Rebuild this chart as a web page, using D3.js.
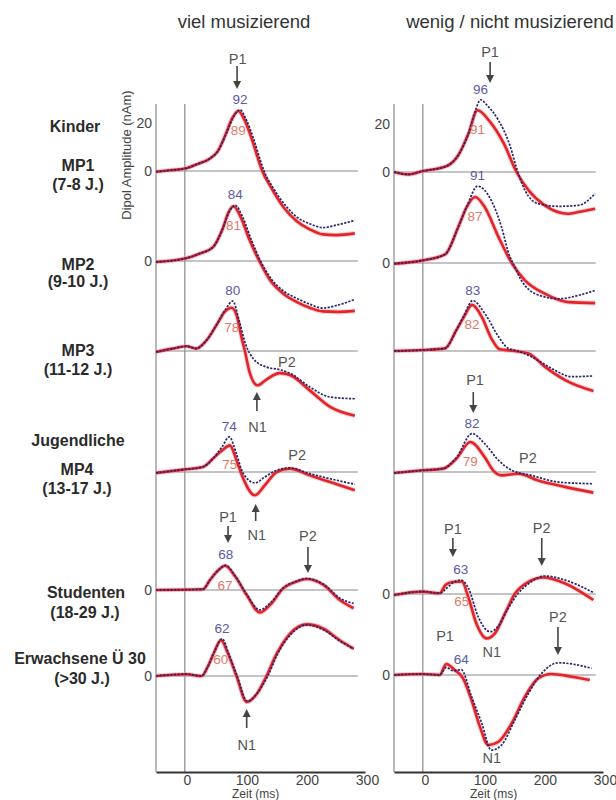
<!DOCTYPE html>
<html>
<head>
<meta charset="utf-8">
<script src="https://cdn.jsdelivr.net/npm/d3@7"></script>
<style>
  body { margin: 0; background: #fff; }
  svg { display: block; }
  text { font-family: "Liberation Sans", Arial, Helvetica, sans-serif; }
</style>
</head>
<body>
<svg id="chart" width="616" height="800"></svg>
<script>
// ---- Spaltenüberschriften und Gruppen ----
const spalten = ["viel musizierend", "wenig / nicht musizierend"];
const gruppenName = ["MP1", "MP2", "MP3", "MP4", "Studenten", "Erwachsene Ü 30"];
const gruppenAlter = ["(7-8 J.)", "(9-10 J.)", "(11-12 J.)", "(13-17 J.)", "(18-29 J.)", "(>30 J.)"];
const oberbegriffe = ["Kinder", "Jugendliche"];
const zeitTicks = [0, 100, 200, 300];
const amplitudeTicks = [0, 20];

// ---- P1-Latenzen (ms) ----
const p1VielBlau = [92, 84, 80, 74, 68, 62];
const p1VielRot = [89, 81, 78, 75, 67, 60];
const p1WenigBlau = [96, 91, 83, 82, 63, 64];
const p1WenigRot = [91, 87, 82, 79, 65, null];

// ---- Dipolkurven [Zeit ms, Amplitude nAm] : viel musizierend ----
const vielRotMP1 = [[-48,-0.3],[-25,0.3],[0,1.0],[20,2.8],[40,4.9],[55,8.3],[68,15.3],[79,22],[89,25],[99,21.5],[112,13],[124,3.5],[129,0],[144,-7],[165,-15.3],[186,-20.8],[208,-24.3],[230,-26.4],[253,-26.7],[283,-26]];
const vielBlauMP1 = [[-48,-0.3],[-25,0.3],[0,1.0],[20,2.8],[40,4.9],[55,8.3],[68,15],[80,22],[92,25.5],[102,21.5],[115,13],[127,3.5],[132,0],[147,-7],[168,-14.5],[188,-19.5],[208,-22],[230,-23.6],[253,-22.5],[283,-20.6]];
const vielRotMP2 = [[-48,-0.4],[0,1.0],[25,3.1],[47,5.8],[62,12.8],[73,20.4],[81,22.8],[93,18.3],[108,8.6],[124,0],[142,-8],[164,-13.6],[186,-17],[208,-19.5],[230,-21],[253,-21.2],[283,-20.8]];
const vielBlauMP2 = [[-48,-0.4],[0,1.0],[25,3.1],[47,5.8],[62,12.8],[74,20.6],[84,23.2],[96,18.5],[111,8.6],[126,0],[144,-7.5],[166,-12.8],[186,-15.5],[208,-18],[230,-19.6],[253,-18.5],[283,-16]];
const vielRotMP3 = [[-48,-0.4],[-20,1],[3,2.0],[19,1],[36,4.4],[54,11.3],[66,16.2],[78,18],[87,14.2],[95,5],[100,0],[108,-9],[121,-14.3],[134,-12.2],[158,-9.2],[176,-10.1],[208,-16.4],[242,-23.3],[283,-27]];
const vielBlauMP3 = [[-48,-0.4],[-20,1],[3,2.0],[19,1],[36,4.4],[54,11.5],[67,17],[80,20.8],[90,13],[101,3],[114,-3.2],[136,-6.7],[158,-7.8],[176,-9.4],[208,-15],[242,-19.2],[283,-19.9]];
const vielRotMP4 = [[-48,-0.4],[-3,1],[30,2.1],[47,5.6],[62,9],[75,11.1],[86,4.9],[94,-0.7],[117,-9.7],[133,-5.6],[153,0],[175,1.4],[208,-1.4],[242,-4.2],[283,-7.6]];
const vielBlauMP4 = [[-48,-0.4],[-3,1],[30,2.1],[47,5.6],[62,10.5],[74,14.6],[86,7.6],[96,0],[117,-4.6],[133,-2.1],[153,0.7],[175,1.7],[208,-0.7],[242,-2.8],[283,-5.1]];
const vielRotStud = [[-48,0],[30,0.3],[42,4.2],[56,8.3],[67,10.1],[84,5.6],[103,-2.1],[125,-9.4],[142,-6.2],[164,0.7],[186,3.5],[203,4.6],[231,2.1],[258,-4.2],[281,-7.6]];
const vielBlauStud = [[-48,0],[30,0.3],[42,4.2],[56,8.3],[68,10.3],[84,5.8],[103,-1.8],[125,-8.3],[142,-5.5],[164,0.9],[186,3.7],[203,4.8],[231,2.4],[258,-3.4],[281,-5.6]];
const vielRotErw = [[-48,0],[3,0.7],[28,0],[38,3.8],[49,10],[60,14.9],[72,9.3],[86,0],[103,-10.8],[120,-7.4],[136,0],[153,9.3],[175,17.6],[203,21.5],[231,19.7],[258,14.9],[281,11.4]];
const vielBlauErw = [[-48,0],[3,0.8],[28,0],[38,3.8],[50,10.5],[62,15.5],[73,9.3],[87,0],[104,-10.5],[121,-7],[138,0],[154,9],[176,17.2],[203,21.3],[231,19.2],[258,14.6],[281,11.2]];

// ---- Dipolkurven [Zeit ms, Amplitude nAm] : wenig / nicht musizierend ----
const wenigRotMP1 = [[-48,0],[-25,-1],[0,0.4],[39,2.4],[59,7],[76,16],[91,25.7],[110,21.5],[135,11.8],[156,0],[176,-7.6],[203,-13.9],[242,-17.4],[259,-16.7],[287,-15.3]];
const wenigBlauMP1 = [[-48,0],[-25,-1],[0,0.4],[39,2.4],[59,7],[76,16],[88,26],[96,30.1],[108,27.5],[126,21.5],[145,11.1],[158,0],[170,-7.6],[192,-13.2],[226,-14.3],[259,-13.9],[287,-9]];
const wenigRotMP2 = [[-48,-0.3],[0,1.1],[37,3.6],[59,15],[73,23.3],[87,27.5],[103,23.3],[126,10.8],[148,0],[170,-7.2],[203,-12.8],[242,-16.3],[287,-16.7]];
const wenigBlauMP2 = [[-48,-0.3],[0,1.1],[37,3.6],[59,15],[74,24],[91,32],[114,26.1],[131,15],[145,2.5],[150,0],[164,-7.2],[187,-12.8],[226,-14.9],[259,-13.5],[287,-11.4]];
const wenigRotMP3 = [[-48,0],[0,0.4],[37,1.1],[56,8.8],[68,14],[82,19.2],[98,14.3],[114,5.3],[128,0.7],[153,0],[176,-1],[203,-6.5],[237,-12.1],[284,-16.7]];
const wenigBlauMP3 = [[-48,0],[0,0.4],[37,1.1],[56,8.8],[68,14.5],[83,21],[103,15.7],[126,6],[142,1.1],[158,0],[181,-2.4],[214,-7.2],[248,-10.7],[284,-10.4]];
const wenigRotMP4 = [[-48,-0.4],[0,0.7],[34,1.4],[56,5.6],[79,12.5],[103,6.2],[117,0.7],[131,-1.4],[159,-0.7],[192,-3.5],[237,-6.2],[284,-8.6]];
const wenigBlauMP4 = [[-48,-0.4],[0,0.7],[34,1.4],[56,6],[82,16],[103,11.8],[126,4.9],[148,0.7],[181,-1.4],[226,-4.2],[284,-4.9]];
const wenigRotStud = [[-48,-0.4],[0,1],[28,0.3],[38,3.8],[50,5],[65,5.2],[76,-1.5],[89,-12.2],[106,-18.5],[120,-16.4],[137,-8],[153,0],[176,5.1],[201,6.9],[237,4.4],[284,-2.5]];
const wenigBlauStud = [[-48,-0.4],[0,1],[28,0.3],[40,2.5],[52,5],[63,5.8],[76,2.4],[92,-9.4],[112,-15.7],[125,-13.6],[142,-6],[158,0],[180,5],[203,7.5],[237,5.8],[284,0.6]];
const wenigRotErw = [[-48,0],[0,0.4],[28,0],[39,4.6],[53,2.1],[67,-1.4],[81,-10.4],[95,-21.5],[109,-29.2],[126,-27.8],[148,-20.1],[170,-9],[192,-1.4],[214,0.4],[248,-0.7],[278,-2.1]];
const wenigBlauErw = [[-48,0],[0,0.4],[28,0],[39,3.2],[50,1.8],[64,2.2],[81,-9],[98,-20],[114,-31.3],[131,-29.2],[153,-18.8],[176,-7.6],[198,0.7],[226,5.1],[248,4.6],[281,2.8]];

const kurven = [
  { rot: [vielRotMP1, vielRotMP2, vielRotMP3, vielRotMP4, vielRotStud, vielRotErw],
    blau: [vielBlauMP1, vielBlauMP2, vielBlauMP3, vielBlauMP4, vielBlauStud, vielBlauErw],
    latRot: p1VielRot, latBlau: p1VielBlau },
  { rot: [wenigRotMP1, wenigRotMP2, wenigRotMP3, wenigRotMP4, wenigRotStud, wenigRotErw],
    blau: [wenigBlauMP1, wenigBlauMP2, wenigBlauMP3, wenigBlauMP4, wenigBlauStud, wenigBlauErw],
    latRot: p1WenigRot, latBlau: p1WenigBlau }
];

// ---- Layout ----
const svg = d3.select("#chart");
const panelLeft = [156, 394];
const panelWidth = 209;
const nullLinien = [[171, 261, 351, 472, 590, 676], [172, 263, 351, 472, 594, 675]];
const pxPerNAm = 2.4;
const axisTop = 104, axisBottom = 772;
const titelX = [244, 510];

const RED = "#e3232a", BLUE = "#26266e";
const RED_LABEL = "#e07a68", BLUE_LABEL = "#5a5aa6";
const GREY = "#8a8a8a", ANNO = "#555";

const x = d3.scaleLinear().domain([-48, 300]).range([0, panelWidth]);

// Titel
spalten.forEach((t, i) => {
  svg.append("text").attr("x", titelX[i]).attr("y", 28)
    .attr("text-anchor", "middle").attr("font-size", 18.5).attr("fill", "#333").text(t);
});

// Gruppenbeschriftung links
const gruppenY = [[171, 190], [270, 287], [356, 375], [475, 494], [598, 618], [664, 684]];
const gruppenX = [78, 78, 78, 77, 86, 80];
const alterX = [78, 78, 78, 77, 85, 82];
const labelFont = 16;
gruppenName.forEach((n, i) => {
  svg.append("text").attr("x", gruppenX[i]).attr("y", gruppenY[i][0]).attr("text-anchor", "middle")
    .attr("font-size", labelFont).attr("font-weight", "bold").attr("fill", "#2b2b2b").text(n);
  svg.append("text").attr("x", alterX[i]).attr("y", gruppenY[i][1]).attr("text-anchor", "middle")
    .attr("font-size", labelFont).attr("font-weight", "bold").attr("fill", "#2b2b2b").text(gruppenAlter[i]);
});
[[oberbegriffe[0], 75, 132], [oberbegriffe[1], 78, 446]].forEach(([t, cx, cy]) => {
  svg.append("text").attr("x", cx).attr("y", cy).attr("text-anchor", "middle")
    .attr("font-size", labelFont).attr("font-weight", "bold").attr("fill", "#2b2b2b").text(t);
});

// y-Achsentitel
svg.append("text").attr("transform", "translate(131,155) rotate(-90)")
  .attr("text-anchor", "middle").attr("font-size", 13).attr("fill", "#444")
  .text("Dipol Amplitude (nAm)");

const line = (y) => d3.line().x(d => x(d[0])).y(d => y(d[1])).curve(d3.curveMonotoneX);

function arrow(g, ax, yTail, yTip) {
  const dir = yTip > yTail ? 1 : -1;
  g.append("line").attr("x1", ax).attr("x2", ax).attr("y1", yTail).attr("y2", yTip - dir * 6)
    .attr("stroke", "#444").attr("stroke-width", 1.6);
  g.append("path")
    .attr("d", `M${ax - 4},${yTip - dir * 8} L${ax + 4},${yTip - dir * 8} L${ax},${yTip} Z`)
    .attr("fill", "#444");
}
function anno(g, t, y, text) {
  g.append("text").attr("x", x(t)).attr("y", y).attr("text-anchor", "middle")
    .attr("font-size", 14.5).attr("fill", ANNO).text(text);
}

kurven.forEach((spalte, p) => {
  const g = svg.append("g").attr("transform", `translate(${panelLeft[p]},0)`);

  // senkrechte Linien: Achse und Reizbeginn
  [x.range()[0], x(0)].forEach(vx => {
    g.append("line").attr("x1", vx).attr("x2", vx).attr("y1", axisTop).attr("y2", axisBottom)
      .attr("stroke", GREY).attr("stroke-width", 1.2);
  });

  // Zeitachse
  const xAxis = d3.axisBottom(x).tickValues(zeitTicks).tickSize(0).tickPadding(3).tickSizeOuter(0);
  const ax = g.append("g").attr("transform", `translate(0,${axisBottom})`).call(xAxis);
  ax.select(".domain").attr("stroke", "#333").attr("stroke-width", 2);
  ax.selectAll("text").attr("font-size", 14).attr("fill", "#444")
    .attr("dx", 2)
    .style("font-family", "'Liberation Sans', Arial, sans-serif");
  g.append("text").attr("x", x(118)).attr("y", 797.5).attr("text-anchor", "middle")
    .attr("font-size", 12).attr("fill", "#444").text("Zeit (ms)");

  nullLinien[p].forEach((base, r) => {
    const y = d3.scaleLinear().domain([0, 20]).range([base, base - 20 * pxPerNAm]);

    // Nulllinie
    g.append("line").attr("x1", x.range()[0]).attr("x2", x(288)).attr("y1", y(0)).attr("y2", y(0))
      .attr("stroke", GREY).attr("stroke-width", 1.2);

    // Amplituden-Beschriftung
    const ticks = r === 0 ? amplitudeTicks : (r === 1 || r >= 4 ? [0] : []);
    ticks.forEach(v => {
      g.append("text").attr("x", -4).attr("y", y(v) + 5).attr("text-anchor", "end")
        .attr("font-size", 14).attr("fill", "#444").text(v);
    });

    // Kurven
    g.append("path").datum(spalte.rot[r]).attr("d", line(y))
      .attr("fill", "none").attr("stroke", "#f29a9a").attr("stroke-width", 4.6).attr("opacity", 0.5);
    g.append("path").datum(spalte.rot[r]).attr("d", line(y))
      .attr("fill", "none").attr("stroke", RED).attr("stroke-width", 2.6);
    g.append("path").datum(spalte.blau[r]).attr("d", line(y))
      .attr("fill", "none").attr("stroke", BLUE).attr("stroke-width", 1.7)
      .attr("stroke-dasharray", "2.2,1.4");

    // Latenz-Beschriftung
    const peak = (arr, t) => arr.reduce((a, b) => Math.abs(b[0] - t) < Math.abs(a[0] - t) ? b : a);
    const lb = spalte.latBlau[r];
    if (lb != null) {
      const pk = peak(spalte.blau[r], lb);
      g.append("text").attr("x", x(lb)).attr("y", y(pk[1]) - 6).attr("text-anchor", "middle")
        .attr("font-size", 13.5).attr("fill", BLUE_LABEL).text(lb);
    }
    const lr = spalte.latRot[r];
    if (lr != null) {
      const pk = peak(spalte.rot[r], lr);
      g.append("text").attr("x", x(lr)).attr("y", y(pk[1]) + 24).attr("text-anchor", "middle")
        .attr("font-size", 13.5).attr("fill", RED_LABEL).text(lr);
    }
  });

  // Komponenten P1 / N1 / P2
  if (p === 0) {
    anno(g, 88, 64, "P1"); arrow(g, x(87), 66, 89);
    anno(g, 170, 367, "P2");
    arrow(g, x(120), 411, 392); anno(g, 121, 432, "N1");
    anno(g, 187, 460, "P2");
    arrow(g, x(118), 521, 504); anno(g, 120, 540, "N1");
    anno(g, 72, 522, "P1"); arrow(g, x(72), 526, 543);
    anno(g, 205, 541, "P2"); arrow(g, x(205), 547, 573);
    arrow(g, x(103), 728, 709); anno(g, 103, 750, "N1");
  } else {
    anno(g, 112, 57, "P1"); arrow(g, x(112), 62, 83);
    anno(g, 87, 385, "P1"); arrow(g, x(84), 392, 413);
    anno(g, 175, 463, "P2");
    anno(g, 50, 534, "P1"); arrow(g, x(50), 538, 557);
    anno(g, 198, 533, "P2"); arrow(g, x(198), 538, 566);
    anno(g, 115, 657, "N1");
    anno(g, 37, 641, "P1");
    anno(g, 225, 622, "P2"); arrow(g, x(225), 627, 655);
    anno(g, 115, 763, "N1");
  }
});
</script>
</body>
</html>
